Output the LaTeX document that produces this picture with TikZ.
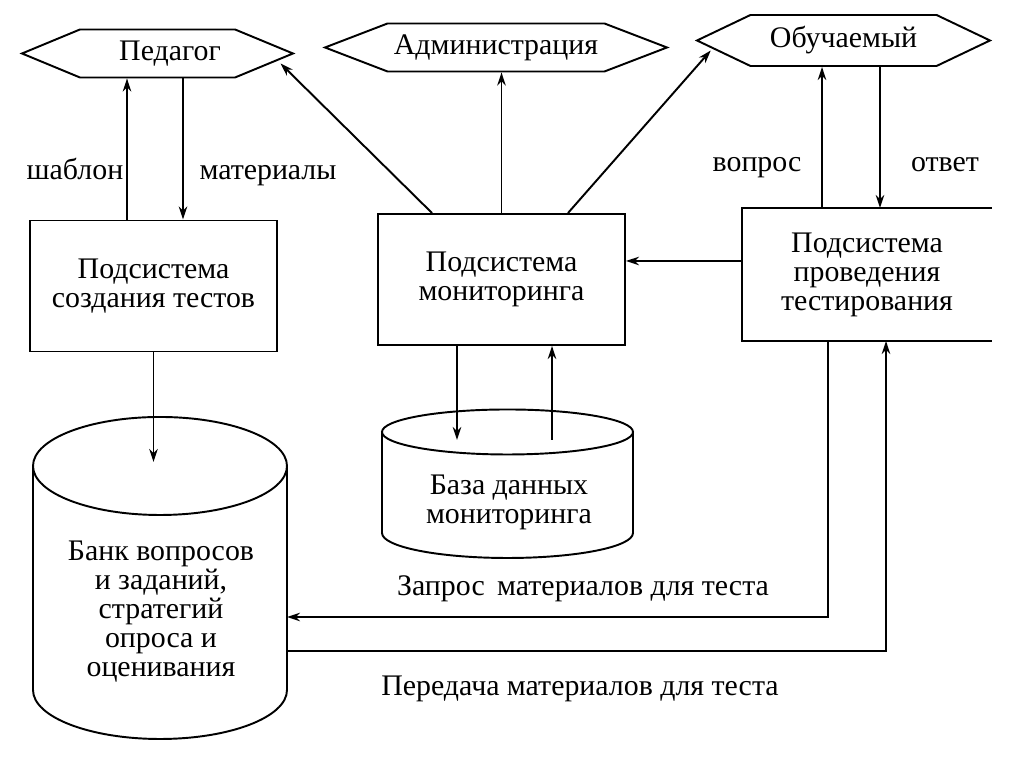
\documentclass[tikz,border=0pt]{standalone}
\usepackage{fontspec}
\setmainfont{Liberation Serif}
\usetikzlibrary{shapes.symbols,calc,arrows.meta}
\begin{document}
\begin{tikzpicture}[
    font=\fontsize{17}{16.5}\selectfont,
    line width=1.1pt,
    arr/.style={-{Stealth[length=2.6mm,width=1.7mm]}},
    actor/.style={draw,signal,signal to=east and west,minimum height=0.96cm,inner sep=0pt},
    subsys/.style={draw,minimum width=4.94cm,minimum height=2.62cm,align=center},
    openbox/.style={minimum width=4.96cm,minimum height=2.62cm,align=center},
    lbl/.style={inner sep=1pt,anchor=base}
]
\useasboundingbox (0,0) rectangle (20.48,15.34);

% 六角形(利用者)
\node[actor,minimum width=5.42cm,signal pointer angle=45] (ped) at (3.15,14.27) {\hspace*{0.5cm}Педагог};
\node[actor,minimum width=6.84cm,signal pointer angle=42] (adm) at (9.92,14.39) {Администрация};
\node[actor,minimum width=5.86cm,signal pointer angle=51,minimum height=1.02cm] (obu) at (16.87,14.53) {Обучаемый};

% サブシステム
\node[subsys] (create) at (3.07,9.62) {Подсистема\\создания тестов};
\node[subsys] (mon) at (10.03,9.75) {Подсистема\\мониторинга};
\node[openbox] (test) at (17.34,9.85) {Подсистема\\проведения\\тестирования};
\draw (test.north east) -- (test.north west) -- (test.south west) -- (test.south east);

% 円柱(データベース)
\draw (0.66,6.02) -- (0.66,1.54) arc[start angle=180,end angle=360,x radius=2.54cm,y radius=0.98cm] -- (5.74,6.02);
\draw (3.2,6.02) ellipse[x radius=2.54cm,y radius=0.98cm];
\node[align=center] (bank) at (3.22,3.1) {Банк вопросов\\и заданий,\\стратегий\\опроса и\\оценивания};
\draw (7.64,6.70) -- (7.64,4.68) arc[start angle=180,end angle=360,x radius=2.51cm,y radius=0.5cm] -- (12.66,6.70);
\draw (10.15,6.70) ellipse[x radius=2.51cm,y radius=0.45cm];
\node[align=center] (db) at (10.18,5.3) {База данных\\мониторинга};

% 座標
\coordinate (sh) at ($(create.north)+(-0.53,0)$);
\coordinate (ma) at ($(create.north)+(0.59,0)$);
\coordinate (vo) at ($(test.north)+(-0.9,0)$);
\coordinate (ot) at ($(test.north)+(0.26,0)$);
\coordinate (mped) at ($(mon.north)+(-1.39,0)$);
\coordinate (mobu) at ($(mon.north)+(1.33,0)$);
\coordinate (pedR) at ($(ped.east)+(-0.3,-0.2)$);
\coordinate (obuL) at ($(obu.west)+(0.32,-0.2)$);
\coordinate (tq) at ($(test.west)+(0,0.27)$);
\coordinate (banktop) at (3.2,6.1);
\coordinate (dbtop) at (10.15,6.54);
\coordinate (md) at ($(mon.south)+(-0.89,0)$);
\coordinate (dm) at ($(mon.south)+(1.01,0)$);
\coordinate (zq) at ($(test.south)+(-0.78,0)$);
\coordinate (pq) at ($(test.south)+(0.38,0)$);
\coordinate (bankin) at (5.74,3.0);
\coordinate (bankout) at (5.74,2.32);

% 矢印
\draw[arr] (sh) -- (sh |- ped.south);
\draw[arr] (ma |- ped.south) -- (ma);
\draw[arr] (vo) -- (vo |- obu.south);
\draw[arr] (ot |- obu.south) -- (ot);
\draw[arr] (mped) -- (pedR);
\draw[arr] (mon.north) -- (mon.north |- adm.south);
\draw[arr] (mobu) -- (obuL);
\draw[arr] (tq) -- (tq -| mon.east);
\draw[arr] (create.south) -- (create.south |- banktop);
\draw[arr] (md) -- (md |- dbtop);
\draw[arr] (dm |- dbtop) -- (dm);
\draw[arr] (zq) |- (bankin);
\draw[arr] (bankout) -| (pq);

% ラベル
\node[lbl] (lsh) at (1.5,11.74) {шаблон};
\node[lbl] (lma) at (5.36,11.74) {материалы};
\node[lbl] (lvo) at (15.14,11.9) {вопрос};
\node[lbl] (lot) at (18.9,11.9) {ответ};
\node[lbl] (lzq) at (11.66,3.42) {Запрос\, материалов для теста};
\node[lbl] (lpq) at (11.6,1.42) {Передача материалов для теста};
\end{tikzpicture}
\end{document}
